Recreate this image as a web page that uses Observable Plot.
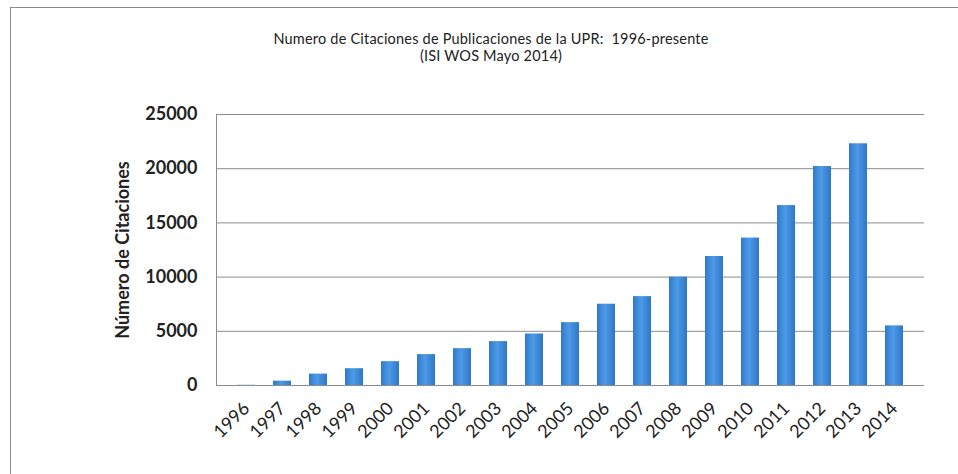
<!DOCTYPE html>
<html><head><meta charset="utf-8">
<script src="https://cdn.jsdelivr.net/npm/d3@7"></script>
<script src="https://cdn.jsdelivr.net/npm/@observablehq/plot@0.6"></script>
<style>
body{margin:0;background:#fff;font-family:Lato,"Open Sans",sans-serif;}
#wrap{position:relative;width:958px;height:474px;overflow:hidden;}
#border{position:absolute;left:10px;top:7px;width:960px;height:480px;border-top:1.5px solid #8a8a8a;border-left:1.5px solid #8a8a8a;pointer-events:none;}
#title{height:80px;box-sizing:border-box;padding-top:30px;padding-left:24px;text-align:center;font-size:14.5px;line-height:17px;color:#222;letter-spacing:0.2px;}
#chart svg{display:block;}
</style></head>
<body>
<div id="wrap">
  <div id="title"><div>Numero de Citaciones de Publicaciones de la UPR:&nbsp; 1996-presente</div><div>(ISI WOS Mayo 2014)</div></div>
  <div id="chart"></div>
  <div id="border"></div>
</div>
<script>
const years = ["1996","1997","1998","1999","2000","2001","2002","2003","2004","2005","2006","2007","2008","2009","2010","2011","2012","2013","2014"];
const citations = [20, 400, 1050, 1550, 2200, 2850, 3400, 4050, 4750, 5800, 7500, 8200, 10000, 11900, 13600, 16600, 20200, 22300, 5500];
const yTicks = [0, 5000, 10000, 15000, 20000, 25000];
const yLabel = "Número de Citaciones";

const data = years.map((y, i) => ({year: y, value: citations[i]}));

function gradientDefs() {
  const svg = d3.create("svg:g");
  const g = svg.append("defs").append("linearGradient").attr("id", "barGrad").attr("x1", "0").attr("x2", "1").attr("y1", "0").attr("y2", "0");
  g.append("stop").attr("offset", "0%").attr("stop-color", "#3079c8");
  g.append("stop").attr("offset", "45%").attr("stop-color", "#4d9ae8");
  g.append("stop").attr("offset", "100%").attr("stop-color", "#2e77c5");
  return svg.node();
}

const chart = Plot.plot({
  width: 958,
  height: 394,
  marginTop: 34,
  marginBottom: 89,
  marginLeft: 216,
  marginRight: 34,
  style: {fontFamily: "Lato, sans-serif", color: "#222", background: "transparent"},
  x: {domain: years, padding: 0.5, label: null},
  y: {domain: [0, 25000], label: null},
  marks: [
    gradientDefs,
    Plot.ruleY(yTicks, {stroke: "#8c8c8c", strokeWidth: 1, strokeOpacity: 1}),
    Plot.frame({anchor: "left", stroke: "#8c8c8c"}),
    Plot.barY(data, {x: "year", y: "value", fill: "url(#barGrad)"}),
    Plot.ruleY([0], {stroke: "#8c8c8c"}),
    Plot.axisY({ticks: yTicks, tickSize: 0, tickPadding: 19, tickFormat: d => String(d), fontSize: 18, fontWeight: "bold", label: yLabel, labelAnchor: "center", labelOffset: 100, labelArrow: "none"}),
    Plot.axisX({tickSize: 0, tickPadding: 20, tickRotate: -45, fontSize: 18, label: null})
  ]
});
document.getElementById("chart").appendChild(chart);
</script>
</body></html>
